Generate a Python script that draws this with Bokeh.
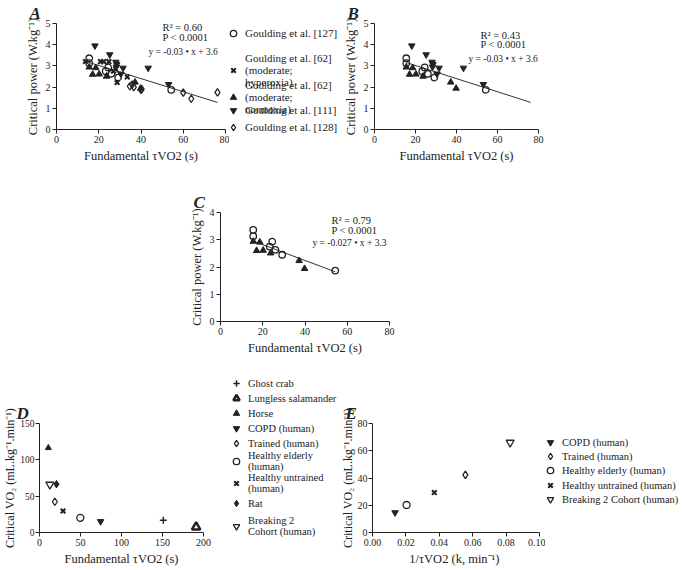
from bokeh.plotting import figure
from bokeh.layouts import column, row
from bokeh.models import Range1d, Label, Legend, LegendItem, Spacer, NumeralTickFormatter, Title
from bokeh.core.properties import value
from bokeh.embed import file_html
from bokeh.resources import INLINE

FONT = "Liberation Serif"
INK = "#222222"

# ---------------- data: panels A-C (critical power vs fundamental tau) ----------------
g127_tau = [15.5, 15.5, 24.5, 23.3, 26.0, 29.2, 54.3]
g127_cp = [3.36, 3.13, 2.93, 2.75, 2.63, 2.45, 1.87]
g62h_tau = [13.7, 20.8, 22.4, 24.8, 27.0, 28.0, 28.7, 33.5]
g62h_cp = [3.21, 3.20, 3.20, 3.20, 2.75, 2.85, 2.22, 2.48]
g62n_tau = [15.5, 18.6, 17.1, 20.2, 23.7, 37.2, 39.8]
g62n_cp = [2.94, 2.91, 2.60, 2.61, 2.51, 2.23, 1.94]
g111_tau = [18.2, 25.2, 28.1, 28.5, 28.3, 31.5, 30.5, 43.4, 53.1]
g111_cp = [3.95, 3.53, 3.18, 3.07, 2.95, 2.90, 2.62, 2.90, 2.13]
g128_tau = [34.7, 35.8, 36.6, 40.0, 40.3, 60.0, 63.8, 76.2]
g128_cp = [2.04, 2.12, 2.00, 1.87, 1.90, 1.74, 1.45, 1.75]

fitA = (-0.031, 3.64)   # slope, intercept (A and B)
fitC = (-0.029, 3.40)

statsA = ["R² = 0.60", "P < 0.0001", "y = -0.03 • x + 3.6"]
statsB = ["R² = 0.43", "P < 0.0001", "y = -0.03 • x + 3.6"]
statsC = ["R² = 0.79", "P < 0.0001", "y = -0.027 • x + 3.3"]

leg_A = ["Goulding et al. [127]",
         "Goulding et al. [62]\n(moderate;\nhyperoxia)",
         "Goulding et al. [62]\n(moderate;\nnormoxia)",
         "Goulding et al. [111]",
         "Goulding et al. [128]"]

# ---------------- data: panels D-E ----------------
species = ["Ghost crab", "Lungless salamander", "Horse", "COPD (human)",
           "Trained (human)", "Healthy elderly\n(human)", "Healthy untrained\n(human)",
           "Rat", "Breaking 2\nCohort (human)"]
sp_tau = [151, 191, 10.8, 74.5, 18.7, 49.8, 28.7, 20.7, 12.7]
sp_vo2 = [17.0, 7.5, 116.5, 15.2, 42.3, 20.2, 29.5, 66.5, 66.0]

human = ["COPD (human)", "Trained (human)", "Healthy elderly (human)",
         "Healthy untrained (human)", "Breaking 2 Cohort (human)"]
hu_k = [0.0135, 0.0556, 0.0204, 0.037, 0.0824]
hu_vo2 = [14.6, 42.3, 20.2, 29.3, 66.0]

XLAB = "Fundamental τVO2 (s)"
YLAB_CP = "Critical power (W.kg⁻¹)"
YLAB_VO2 = "Critical VO₂ (mL.kg⁻¹.min⁻¹)"
XLAB_E = "1/τVO2  (k, min⁻¹)"


def make_fig(w, h, bl, br, bt, bb, xr, yr, xt, yt, xl, yl):
    p = figure(width=w, height=h, x_range=Range1d(*xr), y_range=Range1d(*yr),
               output_backend="svg", toolbar_location=None,
               min_border_left=bl, min_border_right=br, min_border_top=bt, min_border_bottom=bb)
    p.frame_align = False
    p.outline_line_color = None
    p.xgrid.visible = False
    p.ygrid.visible = False
    p.xaxis.ticker = xt
    p.yaxis.ticker = yt
    p.xaxis.axis_label = xl
    p.yaxis.axis_label = yl
    for ax in p.axis:
        ax.axis_line_color = INK
        ax.major_tick_line_color = INK
        ax.minor_tick_line_color = None
        ax.major_tick_out = 4
        ax.major_tick_in = 0
        ax.major_label_standoff = 2
        ax.axis_label_standoff = 3
        ax.major_label_text_font = FONT
        ax.major_label_text_font_size = "10px"
        ax.major_label_text_color = INK
        ax.axis_label_text_font = FONT
        ax.axis_label_text_font_size = "12.5px"
        ax.axis_label_text_font_style = "normal"
        ax.axis_label_text_color = INK
    return p


def key_fig(w, h):
    p = figure(width=w, height=h, output_backend="svg", toolbar_location=None,
               x_axis_type=None, y_axis_type=None, min_border=0)
    p.frame_align = False
    p.outline_line_color = None
    return p


def pts(p, x, y, marker, filled, size=6.5, lw=1.3):
    return p.scatter(x, y, marker=marker, size=size, line_color=INK, line_width=lw,
                     fill_color=INK if filled else None)


def letter(p, t, off=-27):
    p.add_layout(Title(text=t, align="left", offset=off, standoff=2, text_font=FONT,
                       text_font_style="bold italic", text_font_size="17px", text_color=INK), "above")


def notes(p, lines, xs, ys):
    for i, (t, x, y) in enumerate(zip(lines, xs, ys)):
        p.add_layout(Label(x=x, y=y, text=t, text_align="left", text_baseline="middle",
                           text_font=FONT, text_font_size="9.5px" if i == 2 else "10.5px",
                           text_color=INK))


GW = 16
LH = 13


def key(p, r, text, gx, gy, nlines=1, fs="11px"):
    h = max(nlines * LH, GW)
    lg = Legend(items=[LegendItem(label=value(text), renderers=[r])],
                location=(gx - GW / 2, gy - h / 2),
                glyph_width=GW, glyph_height=GW, label_height=10, label_width=10,
                label_standoff=4, padding=0, margin=0, spacing=0,
                border_line_color=None, background_fill_alpha=0, inactive_fill_alpha=0,
                label_text_font=FONT, label_text_font_size=fs, label_text_color=INK)
    p.add_layout(lg)


def fit_line(p, fit, x0, x1):
    m, b = fit
    p.line([x0, x1], [m * x0 + b, m * x1 + b], line_color="#333333", line_width=1)


# ---------------- Panel A ----------------
pA = make_fig(229, 165, 56, 4, 21, 33, (0, 80), (0, 5), [0, 20, 40, 60, 80],
              [0, 1, 2, 3, 4, 5], XLAB, YLAB_CP)
allA_tau = g127_tau + g62h_tau + g62n_tau + g111_tau + g128_tau
fit_line(pA, fitA, min(allA_tau), max(allA_tau))
styleA = [("circle", False, 6.5, 1.3), ("x", False, 6.5, 2.1), ("triangle", True, 6.5, 1.0),
          ("inverted_triangle", True, 6.5, 1.0), ("diamond", False, 7.5, 1.3)]
seriesA = [(g127_tau, g127_cp), (g62h_tau, g62h_cp), (g62n_tau, g62n_cp),
           (g111_tau, g111_cp), (g128_tau, g128_cp)]
for (xs, ys), (m, f, s, lw) in zip(seriesA, styleA):
    pts(pA, xs, ys, m, f, size=s, lw=lw)
letter(pA, "A")
notes(pA, statsA, [50.2, 50.2, 43.5], [4.82, 4.36, 3.66])

# key for A: a frame-only figure whose (hidden) renderers carry the same series
pAk = key_fig(111, 165)
for (xs, ys), (m, f, s, lw), t, gy, n in zip(seriesA, styleA, leg_A, [132, 97, 70, 55, 38],
                                             [1, 3, 3, 1, 1]):
    rk = pts(pAk, xs, ys, m, f, size=s, lw=lw)
    rk.visible = False
    key(pAk, rk, t, 4, gy, n)

# ---------------- Panel B ----------------
pB = make_fig(210, 165, 31, 12, 21, 33, (0, 80), (0, 5), [0, 20, 40, 60, 80], [0, 1, 2, 3, 4, 5],
              XLAB, YLAB_CP)
allB_tau = g127_tau + g62n_tau + g111_tau
fit_line(pB, fitA, min(allB_tau), max(allA_tau))
for k in (0, 2, 3):
    (xs, ys), (m, f, s, lw) = seriesA[k], styleA[k]
    pts(pB, xs, ys, m, f, size=s, lw=lw)
letter(pB, "B")
notes(pB, statsB, [51.7, 51.7, 45.8], [4.45, 4.0, 3.32])

# ---------------- Panel C ----------------
pC = make_fig(237, 192, 48, 20, 47, 33, (0, 80), (0, 4), [0, 20, 40, 60, 80],
              [0, 1, 2, 3, 4], XLAB, YLAB_CP)
allC_tau = g127_tau + g62n_tau
fit_line(pC, fitC, min(allC_tau), max(allC_tau))
for k in (0, 2):
    (xs, ys), (m, f, s, lw) = seriesA[k], styleA[k]
    pts(pC, xs, ys, m, f, size=s, lw=lw)
letter(pC, "C")
notes(pC, statsC, [52.5, 52.5, 43.5], [3.7, 3.33, 2.88])

# ---------------- Panel D ----------------
pD = make_fig(225, 211, 36, 22, 66, 33, (0, 200), (0, 150), [0, 50, 100, 150, 200],
              [0, 50, 100, 150], XLAB, YLAB_VO2)
pD.yaxis.major_label_standoff = 1
pD.yaxis.axis_label_standoff = 0
pD.yaxis.major_label_text_font_size = "9.5px"
pD.yaxis.axis_label_text_font_size = "12px"
styleD = [("cross", False, 7, 1.5), ("triangle", False, 8.5, 2.5), ("triangle", True, 6, 1.0),
          ("inverted_triangle", True, 6.5, 1.0), ("diamond", False, 7.5, 1.3), ("circle", False, 7, 1.3),
          ("x", False, 6.5, 2.1), ("diamond", True, 7.5, 1.0), ("inverted_triangle", False, 8, 1.3)]
for i, (m, f, s, lw) in enumerate(styleD):
    pts(pD, [sp_tau[i]], [sp_vo2[i]], m, f, size=s, lw=lw)
letter(pD, "D", off=-23)

pDk = key_fig(112, 211)
for i, (m, f, s, lw) in enumerate(styleD):
    rk = pts(pDk, [sp_tau[i]], [sp_vo2[i]], m, f, size=s, lw=lw)
    rk.visible = False
    key(pDk, rk, species[i], 11, [185, 170, 155, 140, 125, 109, 87, 65, 44][i],
        species[i].count("\n") + 1, fs="10.5px")

# ---------------- Panel E ----------------
pE = make_fig(208, 211, 34, 6, 66, 33, (0, 0.1), (0, 80),
              [0, 0.02, 0.04, 0.06, 0.08, 0.1], [0, 20, 40, 60, 80], XLAB_E, YLAB_VO2)
pE.yaxis.major_label_standoff = 1
pE.yaxis.axis_label_standoff = 0
pE.yaxis.axis_label_text_font_size = "12px"
pE.xaxis.formatter = NumeralTickFormatter(format="0.00")
styleE = [styleD[3], styleD[4], styleD[5], styleD[6], styleD[8]]
for i, (m, f, s, lw) in enumerate(styleE):
    pts(pE, [hu_k[i]], [hu_vo2[i]], m, f, size=s, lw=lw)
letter(pE, "E")

pEk = key_fig(140, 211)
for i, (m, f, s, lw) in enumerate(styleE):
    rk = pts(pEk, [hu_k[i]], [hu_vo2[i]], m, f, size=s, lw=lw)
    rk.visible = False
    key(pEk, rk, human[i], 5, [126, 112, 98, 83, 69][i], 1, fs="10.5px")

layout = column(row(pA, pAk, pB), row(Spacer(width=172, height=192), pC), row(pD, pDk, pE, pEk))

open("out.html", "w").write(file_html(layout, INLINE))
